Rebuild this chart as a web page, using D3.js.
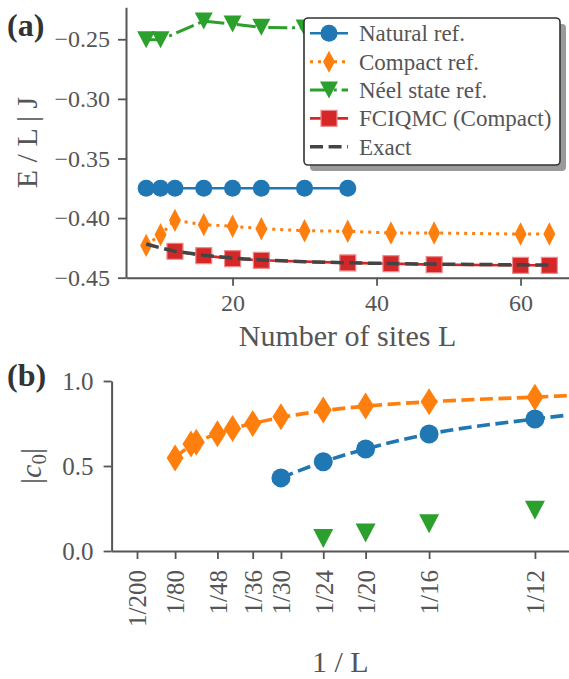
<!DOCTYPE html>
<html>
<head>
<meta charset="utf-8">
<script src="https://cdn.jsdelivr.net/npm/d3@7"></script>
<style>
  html, body { margin: 0; padding: 0; background: #fff; }
  svg { display: block; }
  text { font-family: "Liberation Serif", "DejaVu Serif", serif; fill: #555; }
</style>
</head>
<body>
<svg id="chart" width="569" height="679"></svg>
<script>
// ---------- Panel (a) data ----------
const sitesNatural  = [8, 10, 12, 16, 20, 24, 30, 36];
const energyNatural = [-0.375, -0.375, -0.375, -0.375, -0.375, -0.375, -0.375, -0.375];
const sitesCompact  = [8, 10, 12, 16, 20, 24, 30, 36, 42, 48, 60, 64];
const energyCompact = [-0.4229, -0.4139, -0.4019, -0.4055, -0.4069, -0.4089, -0.4106, -0.4111, -0.4125, -0.4125, -0.4134, -0.4134];
const sitesNeel     = [8, 10, 16, 20, 24, 30];
const energyNeel    = [-0.2505, -0.2505, -0.2347, -0.2372, -0.2400, -0.2405];
const sitesFciqmc   = [12, 16, 20, 24, 36, 42, 48, 60, 64];
const energyFciqmc  = [-0.4278, -0.4315, -0.4340, -0.4354, -0.4376, -0.4382, -0.4390, -0.4396, -0.4396];
const sitesExact    = [8, 10, 12, 16, 20, 24, 30, 36, 42, 48, 60, 64];
const energyExact   = [-0.4217, -0.4250, -0.4278, -0.4312, -0.4336, -0.4351, -0.4366, -0.4375, -0.4381, -0.4386, -0.4392, -0.4394];
const xTicksA = [20, 40, 60];
const yTicksA = [-0.45, -0.40, -0.35, -0.30, -0.25];
const legendLabels = ["Natural ref.", "Compact ref.", "Néel state ref.", "FCIQMC (Compact)", "Exact"];

// ---------- Panel (b) data ----------
const sitesC0Compact = [80, 64, 60, 48, 42, 36, 30, 24, 20, 16, 12];
const c0Compact      = [0.547, 0.630, 0.640, 0.690, 0.720, 0.750, 0.790, 0.830, 0.853, 0.878, 0.905];
const sitesC0Natural = [30, 24, 20, 16, 12];
const c0Natural      = [0.430, 0.525, 0.600, 0.688, 0.776];
const sitesC0Neel    = [24, 20, 16, 12];
const c0Neel         = [0.073, 0.106, 0.160, 0.240];
const fitCompactInvL = [0.0125, 0.0156, 0.0208, 0.0278, 0.0333, 0.0417, 0.0500, 0.0625, 0.0833, 0.0900];
const fitCompactC0   = [0.550, 0.620, 0.690, 0.750, 0.785, 0.825, 0.852, 0.878, 0.905, 0.914];
const fitNaturalInvL = [0.0333, 0.0417, 0.0500, 0.0625, 0.0833, 0.0900];
const fitNaturalC0   = [0.430, 0.525, 0.600, 0.688, 0.776, 0.800];
const xTickSitesB = [200, 80, 48, 36, 30, 24, 20, 16, 12];
const yTicksB = [0.0, 0.5, 1.0];

// ---------- styling ----------
const C = { blue: "#1f77b4", orange: "#ff7f0e", green: "#2ca02c", red: "#d62728", exact: "#444444", axis: "#555555" };
const svg = d3.select("#chart");
const minus = s => s.replace("-", "\u2212");

// marker paths centered at 0,0
function diamondPath(hw, hh) { return `M0,${-hh}L${hw},0L0,${hh}L${-hw},0Z`; }
function trianglePath(w, h) { return `M${-w/2},${-h/2}L${w/2},${-h/2}L0,${h/2}Z`; }
function squarePath(s) { return `M${-s/2},${-s/2}h${s}v${s}h${-s}Z`; }

function styleAxis(g, fontSize) {
  g.select(".domain").attr("stroke", C.axis).attr("stroke-width", 2);
  g.selectAll(".tick line").attr("stroke", C.axis).attr("stroke-width", 1.8);
  g.selectAll(".tick text").attr("fill", C.axis).style("font-size", fontSize + "px")
    .style("font-family", '"Liberation Serif", "DejaVu Serif", serif');
}

// ================= Panel (a) =================
const A = { left: 126, right: 569.5, top: 7.3, bottom: 277.7 };
const xA = d3.scaleLinear().domain([5.2, 66.8]).range([A.left, A.right]);
const yA = d3.scaleLinear().domain([-0.45, -0.2232]).range([A.bottom, A.top]);

const gA = svg.append("g");
gA.append("g").attr("transform", `translate(0,${A.bottom})`)
  .call(d3.axisBottom(xA).tickValues(xTicksA).tickSize(8).tickPadding(8).tickSizeOuter(0).tickFormat(d3.format("d")))
  .call(g => styleAxis(g, 24));
gA.append("g").attr("transform", `translate(${A.left},0)`)
  .call(d3.axisLeft(yA).tickValues(yTicksA).tickSize(8).tickPadding(8).tickSizeOuter(0).tickFormat(d => minus(d3.format(".2f")(d))))
  .call(g => styleAxis(g, 24));

const clipA = svg.append("clipPath").attr("id", "clipA").append("rect")
  .attr("x", A.left).attr("y", 0).attr("width", 569 - A.left).attr("height", A.bottom + 10);

const lineA = d3.line().x(d => xA(d[0])).y(d => yA(d[1]));
const zip = (a, b) => a.map((v, i) => [v, b[i]]);
const plotA = gA.append("g").attr("clip-path", "url(#clipA)");

function seriesA(xs, ys, color, dash, width, markerPath, markerStroke) {
  const data = zip(xs, ys);
  plotA.append("path").datum(data).attr("d", lineA).attr("fill", "none")
    .attr("stroke", color).attr("stroke-width", width).attr("stroke-dasharray", dash);
  if (markerPath) {
    plotA.append("g").selectAll("path").data(data).join("path")
      .attr("transform", d => `translate(${xA(d[0])},${yA(d[1])})`)
      .attr("d", markerPath).attr("fill", color)
      .attr("stroke", markerStroke || "none").attr("stroke-width", markerStroke ? 1.2 : 0);
  }
}
const circleA = d3.symbol().type(d3.symbolCircle).size(Math.PI * 8.5 * 8.5)();
seriesA(sitesNatural, energyNatural, C.blue, null, 2.6, circleA);
seriesA(sitesCompact, energyCompact, C.orange, "3,5", 3, diamondPath(6, 11.7));
seriesA(sitesNeel, energyNeel, C.green, "19,4.8,3,4.8", 3, trianglePath(18, 17));
seriesA(sitesFciqmc, energyFciqmc, C.red, null, 2.6, squarePath(16), "#ec8c8c");
seriesA(sitesExact, energyExact, C.exact, "13,5.6", 3.5, null);

// legend
const LG = { x: 304, y: 18, w: 256, h: 147 };
const leg = svg.append("g");
leg.append("rect").attr("x", LG.x + 6).attr("y", LG.y + 6).attr("width", LG.w).attr("height", LG.h)
  .attr("rx", 4).attr("fill", "#9a9a9a");
leg.append("rect").attr("x", LG.x).attr("y", LG.y).attr("width", LG.w).attr("height", LG.h)
  .attr("rx", 4).attr("fill", "#fff").attr("stroke", "#333").attr("stroke-width", 1.6);
const legItems = [
  { color: C.blue, dash: null, w: 2.6, m: circleA },
  { color: C.orange, dash: "3,5", w: 3, m: diamondPath(6, 11) },
  { color: C.green, dash: "19,4.8,3,4.8", w: 3, m: trianglePath(18, 17) },
  { color: C.red, dash: null, w: 2.6, m: squarePath(16), ms: "#ec8c8c" },
  { color: C.exact, dash: "13,5.6", w: 3.5, m: null }
];
legItems.forEach((it, i) => {
  const cy = 33.3 + i * 28.35;
  leg.append("line").attr("x1", 310).attr("x2", 348).attr("y1", cy).attr("y2", cy)
    .attr("stroke", it.color).attr("stroke-width", it.w).attr("stroke-dasharray", it.dash);
  if (it.m) leg.append("path").attr("d", it.m).attr("transform", `translate(329,${cy})`)
    .attr("fill", it.color).attr("stroke", it.ms || "none").attr("stroke-width", it.ms ? 1.2 : 0);
  leg.append("text").attr("x", 359).attr("y", cy).attr("dy", "0.35em")
    .style("font-size", "23px").text(legendLabels[i]);
});

// labels (a)
svg.append("text").attr("x", (A.left + 569) / 2).attr("y", 346).attr("text-anchor", "middle")
  .style("font-size", "30px").text("Number of sites L");
svg.append("text").attr("transform", `translate(37,142.5) rotate(-90)`).attr("text-anchor", "middle")
  .style("font-size", "30px").text("E / L | J");
svg.append("text").attr("x", 7).attr("y", 36).style("font-size", "32px").style("font-weight", "bold")
  .style("fill", "#333").text("(a)");

// ================= Panel (b) =================
const B = { left: 111.6, right: 568.8, top: 381, bottom: 551 };
const xB = d3.scaleLinear().domain([0, 0.09]).range([B.left, B.right]);
const yB = d3.scaleLinear().domain([0, 1]).range([B.bottom, B.top]);
const gB = svg.append("g");

const xAxisB = gB.append("g").attr("transform", `translate(0,${B.bottom})`)
  .call(d3.axisBottom(xB).tickValues(xTickSitesB.map(L => 1 / L)).tickSize(8).tickSizeOuter(0)
    .tickFormat((d, i) => "1/" + xTickSitesB[i]))
  .call(g => styleAxis(g, 25));
xAxisB.selectAll(".tick text").attr("transform", "translate(0,19) rotate(-90)")
  .attr("y", 0).attr("x", 0).attr("dy", "0.35em").attr("text-anchor", "end");
gB.append("g").attr("transform", `translate(${B.left},0)`)
  .call(d3.axisLeft(yB).tickValues(yTicksB).tickSize(8).tickPadding(10).tickSizeOuter(0).tickFormat(d3.format(".1f")))
  .call(g => styleAxis(g, 25));

svg.append("clipPath").attr("id", "clipB").append("rect")
  .attr("x", B.left).attr("y", B.top - 20).attr("width", 569 - B.left).attr("height", B.bottom - B.top + 20);
const plotB = gB.append("g").attr("clip-path", "url(#clipB)");
const lineB = d3.line().x(d => xB(d[0])).y(d => yB(d[1])).curve(d3.curveMonotoneX);

plotB.append("path").datum(zip(fitCompactInvL, fitCompactC0)).attr("d", lineB).attr("fill", "none")
  .attr("stroke", C.orange).attr("stroke-width", 3.6).attr("stroke-dasharray", "13,5.5");
plotB.append("g").selectAll("path").data(zip(sitesC0Compact, c0Compact)).join("path")
  .attr("transform", d => `translate(${xB(1 / d[0])},${yB(d[1])})`)
  .attr("d", diamondPath(8.5, 13.5)).attr("fill", C.orange);
plotB.append("path").datum(zip(fitNaturalInvL, fitNaturalC0)).attr("d", lineB).attr("fill", "none")
  .attr("stroke", C.blue).attr("stroke-width", 3.6).attr("stroke-dasharray", "13,5.5");
plotB.append("g").selectAll("path").data(zip(sitesC0Natural, c0Natural)).join("path")
  .attr("transform", d => `translate(${xB(1 / d[0])},${yB(d[1])})`)
  .attr("d", d3.symbol().type(d3.symbolCircle).size(Math.PI * 9.5 * 9.5)()).attr("fill", C.blue);
plotB.append("g").selectAll("path").data(zip(sitesC0Neel, c0Neel)).join("path")
  .attr("transform", d => `translate(${xB(1 / d[0])},${yB(d[1])})`)
  .attr("d", trianglePath(20, 19)).attr("fill", C.green);

// labels (b)
svg.append("text").attr("x", (B.left + 569) / 2).attr("y", 672).attr("text-anchor", "middle")
  .style("font-size", "30px").text("1 / L");
const yl = svg.append("text").attr("transform", `translate(41,466) rotate(-90)`).attr("text-anchor", "middle")
  .style("font-size", "30px");
yl.append("tspan").text("|");
yl.append("tspan").style("font-style", "italic").text("c");
yl.append("tspan").attr("dy", 5).style("font-size", "21px").text("0");
yl.append("tspan").attr("dy", -5).text("|");
svg.append("text").attr("x", 7).attr("y", 386).style("font-size", "32px").style("font-weight", "bold")
  .style("fill", "#333").text("(b)");
</script>
</body>
</html>
